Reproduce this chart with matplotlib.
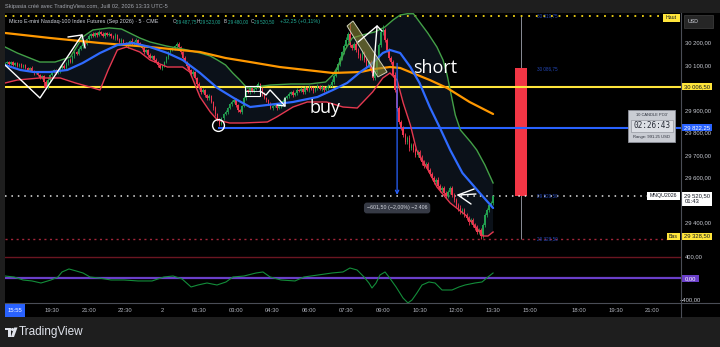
import numpy as np
import matplotlib
matplotlib.use("Agg")
import matplotlib.pyplot as plt
from matplotlib.patches import Rectangle, Polygon
from matplotlib.transforms import blended_transform_factory

plt.rcParams['font.family'] = ['Liberation Sans', 'DejaVu Sans']

# ------------------------------------------------------------------ data
# 5-minute closes, bar index 0 = 19:30 (day 1); last bar = 13:30 (day 2)
closes = [
    30111, 30115.5, 30106.75, 30115.5, 30102.25, 30111, 30097.75, 30106.75,
    30093.25, 30102.25, 30089, 30080, 30089, 30075.5, 30066.75, 30071,
    30057.75, 30044.5, 30053.25, 30026.75, 30000, 30035.5, 30057.75, 30071,
    30080, 30066.75, 30075.5, 30089,
    30097.75, 30089, 30111, 30124.5, 30115.5, 30142.25, 30160, 30151, 30173.25, 30186.75, 30204.5, 30195.5, 30217.75, 30231,
    30240, 30231, 30244.5, 30235.5, 30249, 30240, 30231, 30244.5, 30235.5, 30240,
    30231, 30222.25, 30235.5, 30217.75, 30204.5, 30213.25, 30195.5,
    30186.75, 30200, 30209, 30195.5, 30204.5, 30213.25, 30200, 30191,
    30177.75, 30160, 30169, 30146.75, 30133.25, 30142.25, 30124.5, 30115.5,
    30102.25, 30089, 30097.75, 30115.5,
    30137.75, 30160, 30169, 30177.75, 30186.75, 30195.5, 30182.25,
    30160, 30133.25, 30115.5, 30097.75, 30080, 30062.25, 30071, 30044.5,
    30017.75, 30000, 29982.25, 29991, 29969, 29955.5, 29964.5,
    29937.75, 29911, 29884.5, 29857.75, 29840,
    29866.75, 29884.5, 29893.25, 29911, 29929, 29937.75, 29946.75,
    29924.5, 29902.25, 29893.25, 29920, 29955.5,
    29991, 29982.25, 30000, 29986.75, 29995.5, 30009, 30017.75,
    30000, 29973.25, 29955.5, 29946.75, 29929, 29911, 29920,
    29929, 29911, 29920, 29933.25, 29942.25,
    29955.5, 29964.5, 29973.25, 29982.25, 29969, 29977.75, 29991, 29986.75,
    29995.5, 29982.25, 30000, 29991, 30004.5, 29995.5, 29986.75, 30000, 30009, 29995.5, 30004.5, 29991, 30000, 30009, 30013.25,
    30026.75, 30053.25, 30080, 30106.75, 30133.25, 30160, 30186.75, 30213.25, 30240,
    30191, 30177.75, 30195.5, 30169, 30146.75,
    30133.25, 30160, 30124.5, 30097.75, 30115.5, 30080, 30044.5,
    30071, 30124.5, 30191, 30249, 30257.75,
    30213.25, 30169, 30133.25,
    30115.5, 30057.75, 29991, 29911, 29849,
    29822.25, 29791, 29760, 29777.75, 29733.25,
    29746.75, 29724.5, 29702.25, 29715.5, 29689,
    29671, 29653.25, 29662.25, 29635.5, 29617.75,
    29600, 29582.25, 29591, 29564.5, 29546.75,
    29555.5, 29533.25, 29520, 29537.75, 29555.5,
    29524.5, 29502.25, 29480, 29466.75, 29449,
    29457.75, 29435.5, 29422.25, 29404.5, 29413.25,
    29391, 29377.75, 29360, 29369, 29342.25,
    29391, 29435.5, 29457.75, 29480, 29487.75, 29520.5,
]
first_open = 30106.75
last_bar = 216

wick_hi = [
    5, 4, 6, 3, 5, 4, 6, 3, 5, 4,   6, 3, 5, 7, 4, 5, 3, 6, 4, 5,
    8, 12, 6, 5, 4, 6, 7, 5, 4, 8,  6, 5, 9, 4, 6, 5, 8, 6, 4, 7,
    6, 9, 5, 8, 6, 4, 7, 5, 9, 6,   5, 8, 6, 4, 7, 5, 6, 9, 5, 8,
    6, 4, 12, 5, 7, 4, 6, 5, 8, 6,  5, 7, 4, 6, 9, 5, 6, 8, 4, 6,
    5, 9, 6, 4, 7, 8, 5, 6, 10, 5,  7, 6, 9, 5, 6, 8, 4, 7, 6, 5,
    9, 6, 4, 7, 5, 8, 6, 4, 9, 6,   5, 7, 6, 8, 4, 6, 5, 9, 6, 5,
    4, 7, 6, 5, 8, 6, 4, 7, 5, 6,   8, 5, 6, 4, 7, 5, 9, 6, 5, 7,
    6, 8, 5, 7, 6, 9, 5, 8, 6, 7,   5, 9, 6, 8, 5, 7, 6, 10, 8, 6,
    12, 9, 7, 10, 8, 6, 9, 12, 10, 50,  6, 9, 12, 8, 7, 10, 6, 9, 8, 11,
    7, 9, 6, 10, 8, 22, 9, 7, 10, 8,    9, 12, 8, 10, 7, 9, 11, 8, 12, 9,
    8, 10, 7, 9, 12, 8, 10, 9, 7, 11,   9, 8, 12, 10, 7, 9, 8, 11, 10, 9,
    8, 10, 9, 12, 8, 10, 9, 7, 11, 9,   10, 12, 8, 9, 11, 10, 8, 9, 10, 2.5,
]
wick_lo = [
    4, 6, 3, 5, 4, 6, 5, 3, 6, 4,   5, 4, 6, 3, 7, 5, 4, 6, 5, 22,
    6, 4, 8, 5, 6, 6, 5, 7, 4, 6,   5, 8, 4, 6, 7, 5, 6, 4, 8, 5,
    6, 5, 7, 4, 6, 8, 5, 6, 4, 7,   5, 6, 8, 4, 7, 6, 5, 9, 6, 4,
    8, 5, 6, 7, 4, 9, 5, 6, 8, 5,   7, 4, 6, 9, 5, 8, 6, 7, 5, 6,
    9, 6, 5, 8, 7, 6, 9, 5, 6, 8,   7, 5, 8, 6, 9, 5, 7, 6, 8, 9,
    8, 6, 7, 10, 6, 10, 5, 8, 6, 7, 6, 9, 5, 7, 8, 6, 9, 5, 7, 6,
    8, 5, 7, 6, 9, 5, 8, 6, 7, 5,   6, 8, 5, 7, 6, 9, 5, 8, 6, 7,
    5, 7, 6, 8, 5, 6, 9, 7, 5, 8,   6, 8, 5, 7, 6, 9, 7, 5, 8, 6,
    7, 9, 6, 8, 10, 7, 9, 6, 8, 7,  9, 10, 8, 12, 9, 7, 10, 8, 11, 9,
    8, 11, 9, 10, 8, 12, 9, 10, 8, 11,  10, 8, 12, 9, 11, 10, 8, 9, 12, 10,
    9, 11, 8, 10, 12, 9, 11, 10, 8, 9,  10, 9, 11, 8, 10, 12, 9, 10, 11, 8,
    9, 10, 12, 8, 11, 9, 10, 12, 9, 10, 10, 8, 9, 13.75, 10, 8, 9, 11, 10, 7.75,
]

# Bands (bar index, price)
upper_x = [-23, -17, -6, 1.5, 9, 15, 20, 28, 34, 37, 43, 48, 56, 64, 72.5, 77.5, 81, 85, 88.5,
           92, 95.5, 99.5, 107, 117, 126, 134, 137.5, 141, 143.5, 147, 152, 158, 163, 167,
           170.5, 174, 177, 180, 184, 188.5, 191.5, 193.5, 195.5, 197.5, 200, 205, 208, 212, 216]
upper_p = [30182.25, 30155.5, 30115.5, 30115.5, 30137.75, 30226.75, 30258, 30267, 30262.25,
           30249, 30222.25, 30204.5, 30186.75, 30173.25, 30155.5, 30142.25, 30124.5, 30102.25,
           30066.75, 30035.5, 30000, 30004.5, 30013.25, 30017.75, 30017.75, 30026.75, 30057.75,
           30111, 30169, 30222.25, 30235.5, 30249, 30271, 30302.25, 30324.5, 30330, 30330,
           30293.25, 30244.5, 30182.25, 30124.5, 30057.75, 29969, 29880, 29813.25, 29760,
           29724.5, 29657.75, 29578]
basis_x = [-23, -15.5, -9, -1, 7.5, 15, 23.5, 32, 39.5, 48, 56.5, 64, 72.5, 81, 89, 97, 105.5,
           118, 130, 137.5, 144.5, 151, 156, 162, 165.5, 170.5, 175.5, 180, 185, 190, 195, 201,
           209.5, 216]
basis_p = [30102.25, 30080, 30071, 30071, 30080, 30111, 30155.5, 30191, 30200, 30182.25,
           30155.5, 30124.5, 30066.75, 30000, 29955.5, 29915.5, 29924.5, 29937.75, 29960, 29991,
           30022.25, 30071, 30102.25, 30155.5, 30169, 30155.5, 30093.25, 30022.25, 29915.5,
           29822.25, 29724.5, 29622.25, 29533.25, 29466.75]
lower_x = [-23, -17, -6, 4, 11.5, 18.5, 23.5, 27.5, 32, 36.5, 43, 48, 56.5, 64, 67.5, 72.5,
           77.5, 81, 87, 93.5, 105.5, 110, 118, 125, 134.5, 142.5, 149.5, 157, 162, 165.5, 169,
           172, 175.5, 178.5, 185, 188.5, 195, 202.5, 208, 211, 213.5, 216]
lower_p = [30022.25, 30035.5, 30044.5, 30044.5, 30022.25, 30004.5, 29991, 30080, 30169,
           30182.25, 30160, 30124.5, 30093.25, 30093.25, 30071, 29960, 29893.25, 29857.75,
           29844.5, 29844.5, 29849, 29871, 29915.5, 29937.75, 29937.75, 29915.5, 29911,
           29982.25, 30044.5, 30066.75, 30035.5, 29933.25, 29835.5, 29724.5, 29622.25, 29560,
           29489, 29435.5, 29377.75, 29342.25, 29342.25, 29360]
slow_x = [-23, -1, 23.5, 48, 72.5, 85, 97, 111.5, 137.5, 151, 158, 165.5, 170.5, 176.5, 185,
          193.5, 204.5, 216]
slow_p = [30244.5, 30222.25, 30200, 30182.25, 30160, 30133.25, 30115.5, 30093.25, 30066.75,
          30071, 30084.5, 30093.25, 30089, 30066.75, 30035.5, 30000, 29937.75, 29884.5]

# Oscillator (bar index, value)
osc_x = [-23, -18.6, -14.2, -9.8, -5.4, -0.5, 2.9, 4.9, 8.3, 11.8, 15.2, 18.6, 23, 28.9, 35.3,
         42.1, 49, 54.8, 59.3, 63.7, 68.1, 71.5, 75.9, 80.8, 85.2, 88.6, 94, 99.9, 103.3, 106.8,
         112.1, 119, 123.4, 130.3, 137.1, 142.5, 145.9, 149.4, 152.8, 155.2, 156.7, 158.7,
         160.6, 163.1, 165, 168.5, 171.9, 174.3, 176.3, 178.7, 181.2, 184.6, 187.6, 191,
         195.9, 199.3, 202.3, 207.1, 210.6, 213.5, 216]
osc_v = [46, 28, -28, -46, -84, -28, 28, 121, 177, 140, 102, 28, 9, -28, -28, -46, -46, 28,
         46, -9, -158, -121, -84, -121, -65, 28, 46, 102, 121, 28, -28, -46, 28, 65, 102, 121,
         195, 158, 28, -84, -177, -84, 65, 121, 28, -158, -363, -455, -400, -270, -121, -65,
         -84, -214, -214, -158, -121, -84, -65, 28, 102]

level_yellow = 30006.50
level_blue = 29822.25
level_blue_from = 81.3
price_last = 29520.50
day_high = 30319.75
day_low = 29328.50
po3_open = 30086.75
po3_bar = 229.7
meas_from, meas_to, meas_bar = 30122.0, 29520.5, 169.0

price_ticks = [30200, 30100, 29900, 29800, 29700, 29600, 29400]
price_tick_lbl = ['30 200,00', '30 100,00', '29 900,00', '29 800,00', '29 700,00',
                  '29 600,00', '29 400,00']
time_pos = [0, 18, 36, 54, 72, 90, 108, 126, 144, 162, 180, 198, 216, 234, 258, 276, 294]
time_lbl = ['19:30', '21:00', '22:30', '2', '01:30', '03:00', '04:30', '06:00', '07:30',
            '09:00', '10:30', '12:00', '13:30', '15:00', '18:00', '19:30', '21:00']
ohlc_letters = ['O', 'H', 'B', 'C']
ohlc_values = ['29\u2009487,75', '29\u2009523,00', '29\u2009480,00', '29\u2009520,50']
change_text = '+32,25 (+0,11%)'

# ------------------------------------------------------------------ figure
W, H = 720, 347
fig = plt.figure(figsize=(W / 100, H / 100), dpi=100, facecolor='#1e1e1e')


def fr(x0, y0, x1, y1):
    return [x0 / W, 1 - y1 / H, (x1 - x0) / W, (y1 - y0) / H]


base = fig.add_axes([0, 0, 1, 1], zorder=0)
base.set_xlim(0, W); base.set_ylim(H, 0); base.axis('off')
base.add_patch(Rectangle((5, 13), 715, 304, fc='black', ec='none'))

XL = (-23.02, 308.03)
YL = (29288.9, 30333.3)
IL = (-456, 567)
PPX = (YL[1] - YL[0]) / 235.0
IPX = (IL[1] - IL[0]) / 55.0

ax = fig.add_axes(fr(5, 13, 681, 248), zorder=1)
ax.set_xlim(XL); ax.set_ylim(YL); ax.axis('off')
axi = fig.add_axes(fr(5, 248, 681, 303), zorder=1)
axi.set_xlim(XL); axi.set_ylim(IL); axi.axis('off')
axp = fig.add_axes(fr(681, 13, 720, 248), zorder=2)
axp.set_xlim(0, 39); axp.set_ylim(YL); axp.axis('off')
axpi = fig.add_axes(fr(681, 248, 720, 303), zorder=2)
axpi.set_xlim(0, 39); axpi.set_ylim(IL); axpi.axis('off')
axt = fig.add_axes(fr(5, 303, 681, 317), zorder=2)
axt.set_xlim(XL); axt.set_ylim(0, 1); axt.axis('off')
ov = fig.add_axes([0, 0, 1, 1], zorder=5)
ov.set_xlim(0, W); ov.set_ylim(H, 0); ov.axis('off')

# ---- band fill
poly = list(zip(upper_x, upper_p)) + list(zip(lower_x[::-1], lower_p[::-1]))
ax.add_patch(Polygon(poly, closed=True, fc='#0b1119', ec='none', zorder=1))

# ---- PO3 candle
ax.vlines(po3_bar, day_low, day_high, colors='#8a8d96', lw=0.7, zorder=2)
ax.bar(po3_bar, po3_open - price_last, bottom=price_last, width=6.3, color='#f23645',
       lw=0, zorder=2.5)

# ---- horizontal levels
ax.hlines(level_yellow, XL[0], XL[1], colors='#ffe53b', lw=1.5, zorder=3.5)
ax.hlines(level_blue, level_blue_from, XL[1], colors='#2962ff', lw=1.5, zorder=3.5)
ax.hlines(day_high, XL[0], 299.2, colors='#f5d614', lw=1.3, linestyles=(0, (1, 3.2)), zorder=3)
ax.hlines(price_last, XL[0], 291.4, colors='#e8e8e8', lw=1.1, linestyles=(0, (1, 3.2)), zorder=3)
ax.hlines(day_low, XL[0], 301.6, colors='#a3263a', lw=1.0, linestyles=(0, (1.5, 2.5)), zorder=3)

# ---- candles
n = len(closes)
xs = np.arange(n) + (last_bar - n + 1)
opens = [first_open] + closes[:-1]
hi = [max(o, c) + w for o, c, w in zip(opens, closes, wick_hi)]
lo = [min(o, c) - w for o, c, w in zip(opens, closes, wick_lo)]
cols = ['#22a050' if c >= o else '#f0364f' for o, c in zip(opens, closes)]
ax.vlines(xs[:len(hi)], lo, hi, colors=cols[:len(hi)], lw=0.6, zorder=4)
body_h = [max(abs(c - o), 3.0) for o, c in zip(opens, closes)]
body_b = [min(o, c) for o, c in zip(opens, closes)]
ax.bar(xs, body_h, bottom=body_b, width=0.75, color=cols, lw=0, zorder=4)

ax.plot(upper_x, upper_p, color='#43a047', lw=1.0, zorder=5)
ax.plot(lower_x, lower_p, color='#e53950', lw=1.0, zorder=5)
ax.plot(slow_x, slow_p, color='#ff9800', lw=1.6, zorder=5, solid_capstyle='round')
ax.plot(basis_x, basis_p, color='#2f6bff', lw=1.6, zorder=5.2, solid_capstyle='round')

# ---- drawings
wk = dict(color='white', lw=1.0, zorder=6, solid_capstyle='round')
ax.plot([-23.0, -5.9, 14.7], [30102.2, 29955.6, 30235.6], **wk)
ax.plot([7.8, 14.7, 16.2], [30226.7, 30235.6, 30177.8], **wk)
ax.plot([81.3], [29835.6], 'o', ms=8.5, mfc='none', mec='white', mew=1.0, zorder=6)
ax.add_patch(Rectangle((94.5, 29964.4), 7.4, 44.5, fc='none', ec='white', lw=0.8, zorder=6))
ax.plot([94.5, 101.9], [29986.7, 29986.7], color='white', lw=0.6, zorder=6)
ax.plot([101.9, 104.8, 106.8, 114.1], [29986.7, 29968.9, 29991.1, 29920.0], **wk)
ax.plot([110.2, 114.1, 114.1], [29924.4, 29920.0, 29955.6], **wk)
ax.add_patch(Polygon([(144.5, 30275.6), (147.4, 30297.8), (164.1, 30071.1), (159.6, 30048.9)],
                     closed=True, fc=(0.55, 0.54, 0.22, 0.6), ec='#cfcfb8', lw=0.7, zorder=6))
ax.plot([149.9, 159.2, 157.2], [30204.4, 30275.6, 30053.3], **wk)
ax.plot([159.2, 161.6], [30275.6, 30253.3], **wk)
ax.plot([206.7, 198.8, 205.2], [29551.1, 29524.4, 29484.4], **wk)
ax.plot([198.8, 207.6], [29524.4, 29528.9], **wk)
ax.annotate('', xy=(meas_bar, meas_to - 8), xytext=(meas_bar, meas_from),
            arrowprops=dict(arrowstyle='->', color='#2962ff', lw=0.9, mutation_scale=6),
            zorder=6)
ax.text(meas_bar, 29466.7, '\u2212601,50 (\u22122,00%) \u22122 406', ha='center', va='center',
        fontsize=3.8, color='#d1d4dc', zorder=7,
        bbox=dict(boxstyle='round,pad=0.55', fc='#363a45', ec='none'))
ax.text(176.8, 30066.7, 'short', fontsize=13, color='white', family=['Open Sans', 'DejaVu Sans'],
        va='baseline', ha='left', zorder=7)
ax.text(126.3, 29888.9, 'buy', fontsize=13, color='white', family=['Open Sans', 'DejaVu Sans'],
        va='baseline', ha='left', zorder=7)
for pv, lb in [(day_high, '30 319,75'), (po3_open, '30 086,75'), (price_last, '29 520,50'),
               (day_low, '29 328,50')]:
    ax.text(237.5, pv, lb, fontsize=3.3, color='#2448b8', va='center', ha='left', zorder=6)

# ---- indicator pane
axi.axhline(400, color='#6b1521', lw=1.0)
axi.axhline(0, color='#6a3fc9', lw=1.6)
axi.plot(osc_x, osc_v, color='#138d3a', lw=0.8)

# ---- price scale
PF = 4.2
for pv, lb in zip(price_ticks, price_tick_lbl):
    axp.text(4, pv, lb, fontsize=PF, color='#c8cbd3', va='center', ha='left')


def ptag(a, y, txt, fc, tc, per, h=7, x0=0, w=31, dy=0):
    a.add_patch(Rectangle((x0, y - h / 2 * per + dy * per), w, h * per, fc=fc, ec='none',
                          clip_on=False, zorder=3))
    a.text(x0 + 3.5, y + dy * per, txt, fontsize=PF, color=tc, va='center', ha='left', zorder=4)


ptag(axp, level_yellow, '30 006,50', '#ffe53b', '#131722', PPX)
ptag(axp, level_blue, '29 822,25', '#2962ff', 'white', PPX)
axp.add_patch(Rectangle((0, price_last - 10 * PPX), 31, 14 * PPX, fc='white', ec='none',
                        clip_on=False, zorder=3))
axp.text(3.5, price_last, '29 520,50', fontsize=PF, color='#131722', va='center', zorder=4)
axp.text(3.5, price_last - 6 * PPX, '01:43', fontsize=PF, color='#131722', va='center', zorder=4)
ptag(axp, day_low, '29 328,50', '#ffe53b', '#131722', PPX, dy=3)
axpi.text(4, 400, '400,00', fontsize=PF, color='#c8cbd3', va='center')
axpi.text(-1, -400, '\u2212400,00', fontsize=PF, color='#c8cbd3', va='center')
ptag(axpi, 0, '0,00', '#6a3fc9', 'white', IPX, w=18)

# tags sitting left of the price scale
bt = blended_transform_factory(ax.transAxes, ax.transData)


def ltag(y, txt, fc, x0, x1, h=7, dy=0):
    ax.add_patch(Rectangle(((x0 - 5) / 676, y - h / 2 * PPX + dy * PPX), (x1 - x0) / 676,
                           h * PPX, transform=bt, fc=fc, ec='none', clip_on=False, zorder=8))
    ax.text(((x0 + x1) / 2 - 5) / 676, y + dy * PPX, txt, transform=bt, fontsize=3.8,
            color='#131722', ha='center', va='center', zorder=9)


ltag(day_high, 'Haut', '#ffe53b', 663, 680, h=8, dy=-1.5)
ltag(price_last, 'MNQU2026', 'white', 647, 680, h=8)
ltag(day_low, 'Bas', '#ffe53b', 667, 680, h=7, dy=3)

# ---- time axis
for tp, tl in zip(time_pos, time_lbl):
    axt.text(tp, 0.5, tl, fontsize=PF, color='#b2b5be', ha='center', va='center')
ov.add_patch(Rectangle((5, 303.5), 20, 13, fc='#2962ff', ec='none'))
ov.text(15, 310, '15:55', fontsize=PF, color='white', ha='center', va='center')

# ---- chrome
ov.plot([681, 681], [13, 317], color='#4a4d56', lw=0.8)
ov.plot([5, 720], [303, 303], color='#4a4d56', lw=0.8)
ov.text(5, 6.5, 'Skipasia créé avec TradingView.com, Juill 02, 2026 13:33 UTC-5',
        fontsize=4.1, color='#a3a6af', va='center', ha='left')
ov.text(9, 21.5, 'Micro E-mini Nasdaq-100 Index Futures (Sep 2026) \u00b7 5 \u00b7 CME',
        fontsize=3.9, color='#d1d4dc', va='center', ha='left')
green = '#22ab94'
for xx, letter, val in zip([172.5, 197, 224, 251], ohlc_letters, ohlc_values):
    ov.text(xx, 21.5, letter, fontsize=3.3, color='#d1d4dc', va='center', ha='left')
    ov.text(xx + 3.5, 21.5, val, fontsize=3.3, color=green, va='center', ha='left')
ov.text(280, 21.5, change_text, fontsize=3.9, color=green, va='center', ha='left')

ov.add_patch(Rectangle((684, 15), 29, 13, fc='#262626', ec='#3a3a3a', lw=0.6))
ov.text(688, 21.5, 'USD', fontsize=3.8, color='#d1d4dc', va='center')

# PO3 timer box
ov.add_patch(Rectangle((628, 110), 47, 32, fc='#c9ccd3', ec='#8c8f99', lw=0.6))
ov.add_patch(Rectangle((630.5, 119.5), 42, 12, fc='#dcdfe5', ec='#9598a1', lw=0.5))
ov.text(651.5, 115, "10 CANDLE PO3'", fontsize=2.9, color='#2a2e39', ha='center', va='center')
ov.text(651.5, 125.7, '02:26:43', fontsize=5.6, color='#2a2e39', ha='center', va='center',
        family=['DejaVu Sans Mono'])
ov.text(651.5, 137, 'Range: 991.25 USD', fontsize=3.0, color='#2a2e39', ha='center',
        va='center')

# footer logo
ov.add_patch(Rectangle((5, 327.5), 5.5, 2.6, fc='#e0e3eb', ec='none'))
ov.add_patch(Rectangle((7.9, 327.5), 2.6, 9.5, fc='#e0e3eb', ec='none'))
ov.plot([12.2], [329], 'o', ms=2.2, color='#e0e3eb', mec='none')
ov.add_patch(Polygon([(14.2, 327.5), (17.5, 327.5), (14.0, 337), (10.9, 337)], closed=True,
                     fc='#e0e3eb', ec='none'))
ov.text(19, 332.3, 'TradingView', fontsize=8.5, color='#e0e3eb', va='center', ha='left')

fig.savefig('out.png', dpi=100, facecolor=fig.get_facecolor())
